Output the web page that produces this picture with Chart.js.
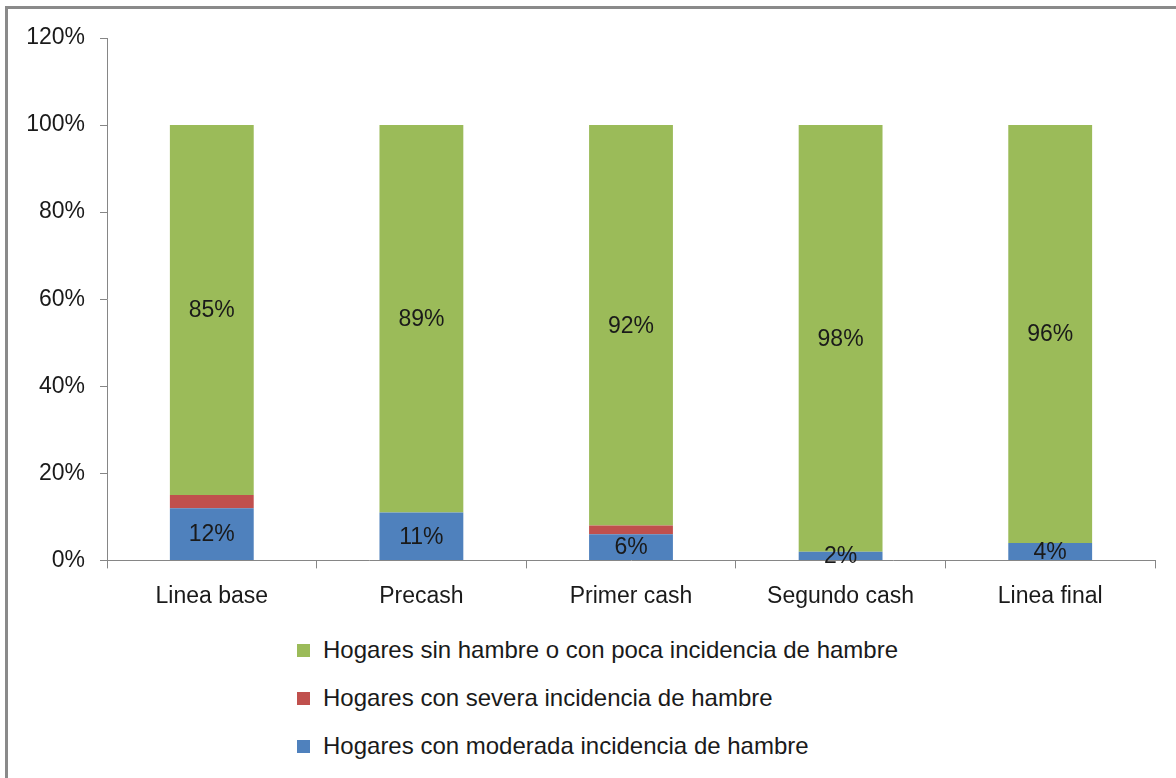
<!DOCTYPE html>
<html>
<head>
<meta charset="utf-8">
<script src="https://cdn.jsdelivr.net/npm/chart.js@4.4.1/dist/chart.umd.min.js"></script>
<style>
    html, body { margin: 0; padding: 0; background: #fff; overflow: hidden; }
    #wrap { position: relative; width: 1176px; height: 778px; overflow: hidden; }
    #frame { position: absolute; left: 5px; top: 6px; width: 1200px; height: 800px; border: 3px solid #8a8a8a; box-sizing: border-box; }
    #chart { position: absolute; left: 0; top: 0; }
    #legend { position: absolute; left: 297px; top: 634px; font-family: "Liberation Sans", Arial, sans-serif; font-size: 24px; color: #1a1a1a; }
    .item { height: 48px; line-height: 32px; white-space: nowrap; }
    .box { display: inline-block; width: 13px; height: 13px; margin-right: 13px; vertical-align: 1px; }
</style>
</head>
<body>
<div id="wrap">
    <div id="frame"></div>
    <canvas id="chart" width="1176" height="634"></canvas>
    <div id="legend"></div>
</div>
<script>
    const categories = ["Linea base", "Precash", "Primer cash", "Segundo cash", "Linea final"];
    const moderada = [12, 11, 6, 2, 4];
    const severa = [3, 0, 2, 0, 0];
    const sinHambre = [85, 89, 92, 98, 96];
    const yTicks = [0, 20, 40, 60, 80, 100, 120];

    const FONT = "'Liberation Sans', Arial, sans-serif";
    const AXIS = "#868686";

    // draws the % labels in the middle of each segment
    const segmentLabels = {
        id: "segmentLabels",
        afterDatasetsDraw(chart) {
            const ctx = chart.ctx;
            ctx.save();
            ctx.font = "23px " + FONT;
            ctx.fillStyle = "#1a1a1a";
            ctx.textAlign = "center";
            ctx.textBaseline = "middle";
            chart.data.datasets.forEach((ds, i) => {
                if (!ds.showLabels) return;
                chart.getDatasetMeta(i).data.forEach((bar, j) => {
                    const v = ds.data[j];
                    if (!v) return;
                    const p = bar.getProps(["x", "y", "base"], true);
                    ctx.fillText(v + "%", p.x, (p.y + p.base) / 2 + 1);
                });
            });
            ctx.restore();
        }
    };

    const chart = new Chart(document.getElementById("chart"), {
        type: "bar",
        data: {
            labels: categories,
            datasets: [
                {label: "Hogares con moderada incidencia de hambre", data: moderada, backgroundColor: "#4F81BD", showLabels: true},
                {label: "Hogares con severa incidencia de hambre", data: severa, backgroundColor: "#C0504D", showLabels: false},
                {label: "Hogares sin hambre o con poca incidencia de hambre", data: sinHambre, backgroundColor: "#9BBB59", showLabels: true}
            ]
        },
        options: {
            responsive: false,
            devicePixelRatio: 1,
            animation: false,
            layout: {padding: {top: 38, right: 21, bottom: 10, left: 0}},
            datasets: {bar: {categoryPercentage: 1, barPercentage: 0.4}},
            plugins: {legend: {display: false}, tooltip: {enabled: false}},
            scales: {
                x: {
                    stacked: true,
                    grid: {display: true, drawOnChartArea: false, offset: true, color: AXIS, tickLength: 8},
                    border: {color: AXIS, width: 1},
                    ticks: {color: "#1a1a1a", font: {family: FONT, size: 23}, padding: 14}
                },
                y: {
                    stacked: true,
                    min: 0,
                    max: 120,
                    afterBuildTicks: s => { s.ticks = yTicks.map(v => ({value: v})); },
                    afterFit: s => { s.width = 107; },
                    grid: {display: true, drawOnChartArea: false, color: AXIS, tickLength: 7},
                    border: {color: AXIS, width: 1},
                    ticks: {color: "#1a1a1a", font: {family: FONT, size: 23}, padding: 15, callback: v => v + "%"}
                }
            }
        },
        plugins: [segmentLabels]
    });

    // legend below the chart, one entry per line, top series first
    const legend = document.getElementById("legend");
    chart.data.datasets.slice().reverse().forEach(ds => {
        const row = document.createElement("div");
        row.className = "item";
        row.innerHTML = `<span class="box" style="background:${ds.backgroundColor}"></span>${ds.label}`;
        legend.appendChild(row);
    });
</script>
</body>
</html>
